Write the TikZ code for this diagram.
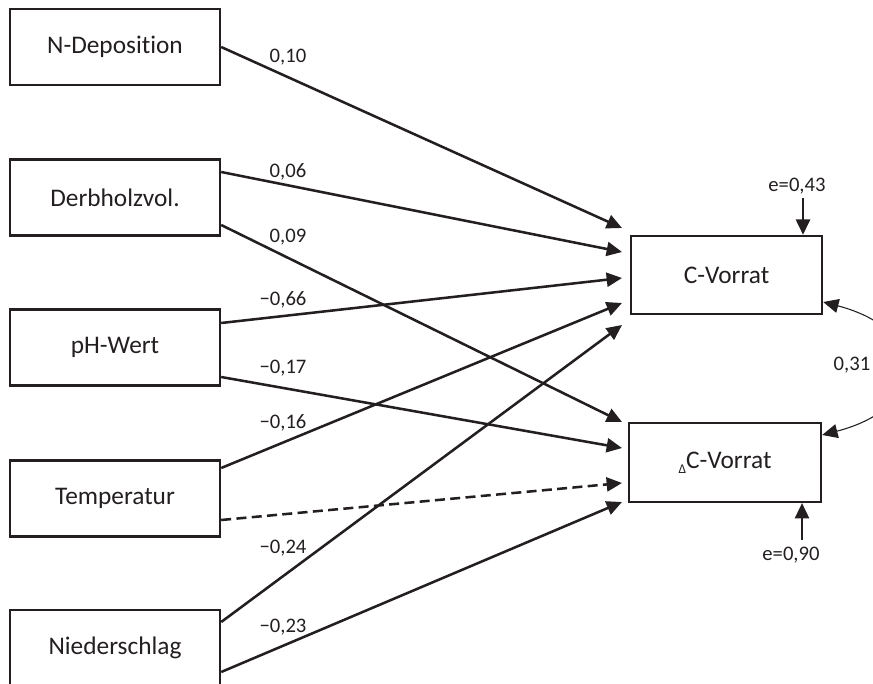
\documentclass[tikz,border=0pt]{standalone}
\usepackage{fontspec}
\setmainfont{Carlito}[Ligatures=NoCommon]
\usetikzlibrary{arrows.meta}
\definecolor{ink}{HTML}{231F20}
\begin{document}
\begin{tikzpicture}[x=0.75pt,y=-0.75pt,
  box/.style={draw=ink,line width=1.8pt,minimum width=157.5pt,minimum height=57pt,inner sep=0pt,text=ink,font=\fontsize{19}{19}\selectfont},
  coef/.style={text=ink,inner sep=0pt,font=\fontsize{15.5}{15.5}\selectfont},
  arr/.style={draw=ink,line width=1.9pt,-{Triangle[length=11.5pt,width=10.5pt]}}]
\useasboundingbox (0,0) rectangle (873,684);
% Einflussgroessen
\node[box] (ndep) at (115,47) {N-Deposition};
\node[box] (derb) at (115,197.5) {Derbholzvol.};
\node[box] (ph) at (115,347.5) {pH-Wert};
\node[box] (temp) at (115,498.5) {Temperatur};
\node[box] (nied) at (115,648) {Niederschlag};
% Zielgroessen
\node[box,minimum width=143.25pt,minimum height=58.5pt] (cv) at (726.5,275) {C-Vorrat};
\node[box,minimum width=144pt,minimum height=59pt] (dcv) at (725,462.5) {\raisebox{-4pt}{\fontsize{10}{10}\selectfont Δ}C-Vorrat};
\coordinate (c1) at (622,228);
\coordinate (c2) at (622,252);
\coordinate (c3) at (622,278);
\coordinate (c4) at (622,303);
\coordinate (c5) at (622,325);
\coordinate (d1) at (622,422);
\coordinate (d2) at (622,448);
\coordinate (d3) at (622,483);
\coordinate (d4) at (622,502);
\draw[arr] (ndep.east) -- (c1);
\draw[arr] ([shift={(0,-25.5)}]derb.east) -- (c2);
\draw[arr] ([shift={(0,27.5)}]derb.east) -- (d1);
\draw[arr] ([shift={(0,-24.5)}]ph.east) -- (c3);
\draw[arr] ([shift={(0,29.5)}]ph.east) -- (d2);
\draw[arr] ([shift={(0,-30.5)}]temp.east) -- (c4);
\draw[arr,dash pattern=on 7.5pt off 4pt] ([shift={(0,21.5)}]temp.east) -- (d3);
\draw[arr] ([shift={(0,-26)}]nied.east) -- (c5);
\draw[arr] ([shift={(0,24)}]nied.east) -- (d4);
\node[coef] (k1) at (288,57) {0,10};
\node[coef] (k2) at (288,172) {0,06};
\node[coef] (k3) at (288,237) {0,09};
\node[coef] (k4) at (283,300) {−0,66};
\node[coef] (k5) at (283,368) {−0,17};
\node[coef] (k6) at (283,423) {−0,16};
\node[coef] (k7) at (283,548) {−0,24};
\node[coef] (k8) at (283,627) {−0,23};
% Residuen
\node[coef] (ecv) at (797,186) {e=0,43};
\node[coef] (edcv) at (791,555) {e=0,90};
\coordinate (ea) at (803,198);
\coordinate (eb) at (802,540);
\draw[arr] (ea) -- ([shift={(76.5,0)}]cv.north);
\draw[arr] (eb) -- ([shift={(77,0)}]dcv.south);
% Korrelation
\draw[draw=ink,line width=0.8pt,{Triangle[length=11.5pt,width=10.5pt]}-{Triangle[length=11.5pt,width=10.5pt]}] ([shift={(0,27)}]cv.east) .. controls (930,330) and (930,407) .. ([shift={(0,-27.5)}]dcv.east);
\node[coef] (kor) at (852,365) {0,31};
\end{tikzpicture}
\end{document}
